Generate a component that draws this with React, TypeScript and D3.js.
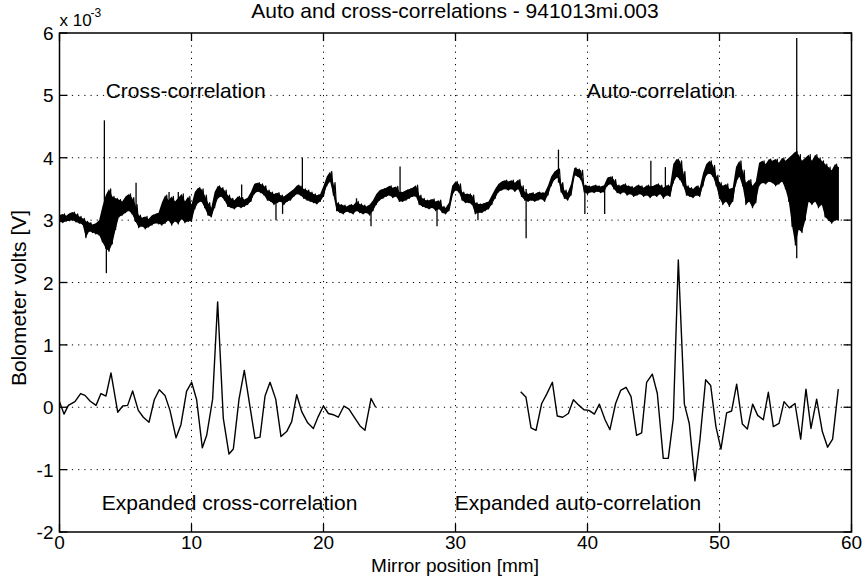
import React from "react";
import * as d3 from "d3";

// ---------- data ----------
const titleText = "Auto and cross-correlations - 941013mi.003";
const xLabelText = "Mirror position [mm]";
const yLabelText = "Bolometer volts [V]";
const xTicks = [0, 10, 20, 30, 40, 50, 60];
const yTicks = [-2, -1, 0, 1, 2, 3, 4, 5, 6];
const xGrid = [10, 20, 30, 40, 50];
const yGrid = [-1, 0, 1, 2, 3, 4, 5];

// Raw bolometer trace, min/max envelope per 0.25 mm bin (units 1e-3 V)
const traceStep = 0.25;
const traceLo = [
  2.97, 2.96, 2.98, 2.99, 3.0, 2.97, 2.95, 2.93, 2.72, 2.82, 2.8, 2.78,
  2.76, 2.65, 2.55, 2.5, 2.62, 2.85, 3.05, 3.08, 3.12, 3.15, 3.1, 2.98,
  2.88, 2.9, 2.86, 2.89, 2.92, 2.95, 2.94, 2.92, 2.95, 3.0, 2.92, 2.98,
  2.94, 3.02, 2.96, 2.98, 2.98, 3.18, 3.28, 3.3, 3.2, 3.08, 3.05, 3.2,
  3.35, 3.38, 3.32, 3.22, 3.2, 3.18, 3.22, 3.2, 3.22, 3.25, 3.3, 3.42,
  3.46, 3.44, 3.4, 3.32, 3.3, 3.25, 3.28, 3.3, 3.25, 3.3, 3.32, 3.38,
  3.42, 3.4, 3.35, 3.32, 3.3, 3.28, 3.26, 3.3, 3.38, 3.55, 3.62, 3.4,
  3.15, 3.12, 3.1, 3.14, 3.12, 3.1, 3.15, 3.12, 3.1, 3.12, 3.08, 3.15,
  3.25, 3.32, 3.35, 3.38, 3.4, 3.36, 3.38, 3.3, 3.3, 3.32, 3.35, 3.38,
  3.38, 3.25, 3.22, 3.2, 3.18, 3.2, 3.15, 3.18, 3.12, 3.1, 3.15, 3.4,
  3.48, 3.45, 3.32, 3.28, 3.28, 3.25, 3.1, 3.12, 3.12, 3.15, 3.18, 3.25,
  3.35, 3.45, 3.48, 3.5, 3.48, 3.5, 3.46, 3.5, 3.38, 3.32, 3.3, 3.32,
  3.3, 3.32, 3.34, 3.3, 3.4, 3.55, 3.65, 3.68, 3.45, 3.35, 3.32, 3.4,
  3.72, 3.7, 3.65, 3.45, 3.42, 3.45, 3.44, 3.46, 3.44, 3.45, 3.55, 3.58,
  3.5, 3.44, 3.42, 3.45, 3.4, 3.42, 3.38, 3.4, 3.42, 3.38, 3.4, 3.36,
  3.4, 3.38, 3.42, 3.35, 3.4, 3.38, 3.6, 3.7, 3.65, 3.55, 3.4, 3.38,
  3.36, 3.4, 3.38, 3.55, 3.72, 3.75, 3.7, 3.55, 3.35, 3.25, 3.3, 3.22,
  3.3, 3.6, 3.7, 3.55, 3.25, 3.3, 3.2, 3.28, 3.55, 3.6, 3.58, 3.62,
  3.6, 3.55, 3.58, 3.62, 3.5, 3.3, 2.9, 2.6, 2.85, 2.8, 3.0, 3.3,
  3.25, 3.3, 3.2, 3.25, 3.05, 3.0, 2.95, 3.0, 3.0,
];
const traceHi = [
  3.08, 3.1, 3.07, 3.11, 3.13, 3.1, 3.06, 3.03, 2.98, 2.96, 2.93, 2.95,
  3.0, 3.22, 3.4, 3.5, 3.38, 3.35, 3.33, 3.3, 3.38, 3.42, 3.36, 3.25,
  3.08, 3.04, 3.06, 3.02, 3.08, 3.1, 3.12, 3.28, 3.4, 3.32, 3.38, 3.3,
  3.36, 3.42, 3.3, 3.38, 3.25, 3.45, 3.52, 3.5, 3.4, 3.28, 3.2, 3.45,
  3.55, 3.52, 3.48, 3.4, 3.35, 3.32, 3.38, 3.36, 3.33, 3.36, 3.45, 3.58,
  3.6, 3.58, 3.55, 3.48, 3.45, 3.42, 3.44, 3.4, 3.38, 3.42, 3.46, 3.5,
  3.56, 3.55, 3.5, 3.48, 3.45, 3.42, 3.4, 3.42, 3.55, 3.7, 3.78, 3.6,
  3.28, 3.25, 3.24, 3.22, 3.25, 3.24, 3.3, 3.26, 3.24, 3.22, 3.25, 3.32,
  3.42, 3.48, 3.5, 3.52, 3.55, 3.52, 3.54, 3.45, 3.45, 3.48, 3.5, 3.52,
  3.56, 3.4, 3.35, 3.32, 3.32, 3.34, 3.3, 3.32, 3.22, 3.2, 3.28, 3.55,
  3.62, 3.58, 3.45, 3.42, 3.42, 3.4, 3.28, 3.26, 3.26, 3.28, 3.3, 3.4,
  3.5, 3.58, 3.62, 3.64, 3.62, 3.64, 3.6, 3.65, 3.55, 3.45, 3.42, 3.44,
  3.42, 3.45, 3.44, 3.44, 3.55, 3.7, 3.78, 3.82, 3.6, 3.48, 3.44, 3.58,
  3.84, 3.82, 3.8, 3.56, 3.55, 3.54, 3.56, 3.55, 3.54, 3.56, 3.68, 3.7,
  3.65, 3.56, 3.55, 3.58, 3.55, 3.54, 3.52, 3.56, 3.55, 3.52, 3.56, 3.54,
  3.55, 3.58, 3.56, 3.52, 3.56, 3.55, 3.9, 3.98, 3.95, 3.78, 3.55, 3.52,
  3.5, 3.55, 3.52, 3.75, 3.9, 3.95, 3.88, 3.72, 3.6, 3.55, 3.58, 3.5,
  3.52, 3.85, 3.95, 3.8, 3.6, 3.65, 3.55, 3.62, 3.92, 3.95, 3.9, 3.98,
  3.95, 3.98, 3.92, 4.0, 3.95, 4.0, 4.05, 4.1, 4.05, 3.95, 4.0, 4.05,
  3.95, 4.05, 4.0, 3.95, 3.9, 3.85, 3.8, 3.9, 3.85,
];
// isolated spikes in the raw trace
const spikeX = [3.4, 3.55, 5.8, 8.3, 9.0, 13.8, 16.4, 16.9, 18.4, 22.5, 23.6, 25.8, 28.6, 31.7, 35.35, 37.8, 39.8, 41.3, 44.8, 45.9, 55.85];
const spikeLo = [3.0, 2.15, 3.1, 3.0, 2.95, 3.25, 3.0, 3.1, 3.4, 3.15, 2.9, 3.4, 2.9, 3.0, 2.71, 3.6, 3.1, 3.1, 3.45, 3.45, 2.39];
const spikeHi = [4.6, 3.3, 3.6, 3.45, 3.45, 3.57, 3.35, 3.35, 4.0, 3.35, 3.2, 3.86, 3.25, 3.25, 3.5, 4.13, 3.5, 3.5, 3.95, 3.85, 5.92];

// Expanded cross-correlation
const crossX = [0, 0.34, 0.67, 1.17, 1.6, 1.93, 2.31, 2.77, 3.14, 3.52, 3.9, 4.41, 4.79, 5.16, 5.54, 5.97, 6.35, 6.78, 7.18, 7.56, 7.99, 8.37, 8.83, 9.2, 9.63, 10.01, 10.39, 10.82, 11.15, 11.6, 11.98, 12.41, 12.84, 13.17, 13.6, 14.0, 14.43, 14.81, 15.19, 15.57, 15.95, 16.38, 16.78, 17.21, 17.59, 17.97, 18.35, 18.8, 19.23, 19.6, 19.99, 20.37, 20.74, 21.12, 21.55, 21.93, 22.39, 22.77, 23.14, 23.6, 23.95];
const crossY = [0.09, -0.11, 0.03, 0.09, 0.22, 0.19, 0.1, 0.03, 0.22, 0.18, 0.55, -0.08, 0.02, 0.03, 0.26, -0.05, -0.16, -0.24, 0.12, 0.28, 0.19, -0.05, -0.49, -0.28, 0.26, 0.4, 0.12, -0.65, -0.45, 0.13, 1.69, -0.18, -0.75, -0.67, 0.13, 0.59, 0.01, -0.5, -0.48, 0.18, 0.4, 0.13, -0.47, -0.39, -0.23, 0.2, -0.07, -0.25, -0.34, -0.15, 0.02, -0.1, -0.12, -0.16, 0.02, -0.03, -0.18, -0.3, -0.37, 0.14, 0.0];

// Expanded auto-correlation
const autoX = [34.94, 35.34, 35.72, 36.1, 36.53, 36.91, 37.34, 37.71, 38.12, 38.55, 38.93, 39.36, 39.73, 40.11, 40.52, 40.9, 41.33, 41.7, 42.13, 42.51, 42.92, 43.3, 43.72, 44.1, 44.48, 44.91, 45.29, 45.74, 46.12, 46.5, 46.88, 47.34, 47.71, 48.14, 48.52, 48.95, 49.33, 49.73, 50.11, 50.54, 50.92, 51.3, 51.73, 52.11, 52.51, 52.89, 53.32, 53.7, 54.08, 54.51, 54.89, 55.29, 55.72, 56.15, 56.55, 56.93, 57.36, 57.79, 58.19, 58.57, 59.0];
const autoY = [0.25, 0.16, -0.33, -0.37, 0.06, 0.21, 0.4, -0.14, -0.16, -0.1, 0.12, 0.03, -0.04, -0.05, -0.11, 0.05, -0.2, -0.36, 0.06, 0.27, 0.32, 0.17, -0.45, -0.41, 0.4, 0.53, 0.22, -0.82, -0.82, -0.18, 2.36, 0.05, -0.26, -1.18, -0.52, 0.44, 0.35, -0.31, -0.67, -0.09, -0.06, 0.37, -0.27, -0.35, 0.05, -0.13, -0.2, 0.24, -0.31, -0.26, 0.09, -0.01, 0.06, -0.51, 0.29, -0.34, 0.13, -0.39, -0.64, -0.51, 0.29];

const annotations = [
  { text: "Cross-correlation", x: 3.5, y: 4.95 },
  { text: "Auto-correlation", x: 39.95, y: 4.95 },
  { text: "Expanded cross-correlation", x: 3.2, y: -1.65 },
  { text: "Expanded auto-correlation", x: 29.95, y: -1.65 },
];

// ---------- chart ----------
const W = 866;
const H = 577;
const L = 59.5, R = 851.5, T = 33, B = 532;
const FONT = "'Liberation Sans', Arial, Helvetica, sans-serif";

export default function App() {
  const x = d3.scaleLinear().domain([0, 60]).range([L, R]);
  const y = d3.scaleLinear().domain([-2, 6]).range([B, T]);

  // zig-zag between bin minimum and maximum (dense raw trace)
  const tracePts: [number, number][] = [];
  traceLo.forEach((lo, i) => {
    const xv = i * traceStep;
    tracePts.push([xv, lo]);
    if (i < traceLo.length - 1) tracePts.push([xv + traceStep / 2, traceHi[i]]);
    else tracePts.push([xv, traceHi[i]]);
  });
  const line = d3.line<[number, number]>().x((d) => x(d[0])).y((d) => y(d[1]));
  const tracePath = line(tracePts) || "";
  const band = d3
    .area<number>()
    .x((_, i) => x(i * traceStep))
    .y0((d) => y(d))
    .y1((_, i) => y(traceHi[i]));
  const bandPath = band(traceLo) || "";
  const crossPath = line(crossX.map((v, i) => [v, crossY[i]] as [number, number])) || "";
  const autoPath = line(autoX.map((v, i) => [v, autoY[i]] as [number, number])) || "";

  const tickLen = 8;

  return (
    <svg width={W} height={H} style={{ position: "absolute", left: 0, top: 0, background: "#fff" }} fontFamily={FONT}>
      <rect x={0} y={0} width={W} height={H} fill="#fff" />
      {/* grid */}
      <g stroke="#000" strokeWidth={1} strokeDasharray="1.2 5">
        {xGrid.map((v) => (
          <line key={"gx" + v} x1={x(v)} x2={x(v)} y1={T} y2={B} />
        ))}
        {yGrid.map((v) => (
          <line key={"gy" + v} x1={L} x2={R} y1={y(v)} y2={y(v)} />
        ))}
      </g>
      {/* data */}
      <path d={bandPath} fill="#000" stroke="none" />
      <path d={tracePath} fill="none" stroke="#000" strokeWidth={1.2} strokeLinejoin="round" />
      <g stroke="#000" strokeWidth={1.3}>
        {spikeX.map((v, i) => (
          <line key={"sp" + i} x1={x(v)} x2={x(v)} y1={y(spikeLo[i])} y2={y(spikeHi[i])} />
        ))}
      </g>
      <path d={crossPath} fill="none" stroke="#000" strokeWidth={1.4} strokeLinejoin="round" />
      <path d={autoPath} fill="none" stroke="#000" strokeWidth={1.4} strokeLinejoin="round" />
      {/* axes box */}
      <rect x={L} y={T} width={R - L} height={B - T} fill="none" stroke="#000" strokeWidth={1.5} />
      <g stroke="#000" strokeWidth={1.3}>
        {xTicks.map((v) => (
          <g key={"xt" + v}>
            <line x1={x(v)} x2={x(v)} y1={B} y2={B - tickLen} />
            <line x1={x(v)} x2={x(v)} y1={T} y2={T + tickLen} />
          </g>
        ))}
        {yTicks.map((v) => (
          <g key={"yt" + v}>
            <line x1={L} x2={L + tickLen} y1={y(v)} y2={y(v)} />
            <line x1={R} x2={R - tickLen} y1={y(v)} y2={y(v)} />
          </g>
        ))}
      </g>
      {/* tick labels */}
      <g fontSize={19} fill="#000">
        {xTicks.map((v) => (
          <text key={"xl" + v} x={x(v)} y={B + 17} textAnchor="middle">{v}</text>
        ))}
        {yTicks.map((v) => (
          <text key={"yl" + v} x={L - 6} y={y(v) + 7} textAnchor="end">{v}</text>
        ))}
      </g>
      {/* exponent */}
      <text x={L} y={26} fontSize={17} fill="#000">x 10</text>
      <text x={L + 31} y={17} fontSize={12} fill="#000">-3</text>
      {/* title and labels */}
      <text x={455} y={18} fontSize={21} textAnchor="middle" fill="#000">{titleText}</text>
      <text x={455} y={572} fontSize={19} textAnchor="middle" fill="#000">{xLabelText}</text>
      <text transform={`translate(26,298) rotate(-90)`} fontSize={21} textAnchor="middle" fill="#000">{yLabelText}</text>
      {/* annotations */}
      {annotations.map((a) => (
        <text key={a.text} x={x(a.x)} y={y(a.y)} fontSize={21} fill="#000">{a.text}</text>
      ))}
    </svg>
  );
}
